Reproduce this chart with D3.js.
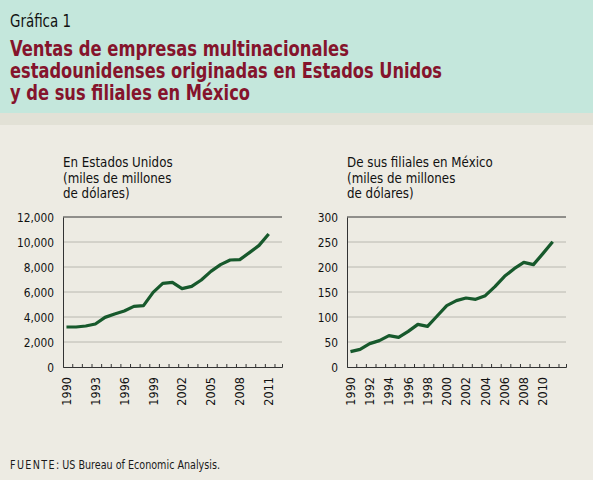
<!DOCTYPE html>
<html>
<head>
<meta charset="utf-8">
<script src="https://cdn.jsdelivr.net/npm/d3@7"></script>
<style>
  body { margin: 0; background: #edebe3; }
  svg { display: block; }
  text { font-family: "DejaVu Sans Condensed", "Open Sans", sans-serif; }
</style>
</head>
<body>
<svg id="chart"></svg>
<script>
const width = 593;
const height = 480;

// years shared by both panels
const years = d3.range(1990, 2012);

// ventas en Estados Unidos (miles de millones de dólares)
const usSales = [3200, 3200, 3280, 3440, 3970, 4240, 4480, 4850, 4910, 5970, 6690,
    6770, 6270, 6450, 6960, 7650, 8190, 8560, 8590, 9150, 9730, 10640];

// ventas de filiales en México (miles de millones de dólares)
const mxSales = [30.7, 35.3, 46.7, 52.7, 62.7, 59.3, 71.3, 85.3, 81.3, 102, 122.7,
    132.7, 138, 135.3, 142.7, 160.7, 181.3, 196.7, 209.3, 204.7, 227.3, 250.7];

const usTicks = [0, 2000, 4000, 6000, 8000, 10000, 12000];
const mxTicks = [0, 50, 100, 150, 200, 250, 300];
const usYearLabels = [1990, 1993, 1996, 1999, 2002, 2005, 2008, 2011];
const mxYearLabels = [1990, 1992, 1994, 1996, 1998, 2000, 2002, 2004, 2006, 2008, 2010];

const titleLines = [
    "Ventas de empresas multinacionales",
    "estadounidenses originadas en Estados Unidos",
    "y de sus filiales en México"
];

const svg = d3.select("#chart")
    .attr("width", width)
    .attr("height", height);

// background bands
svg.append("rect").attr("width", width).attr("height", height).attr("fill", "#edebe3");
svg.append("rect").attr("width", width).attr("height", 113).attr("fill", "#c4e7dc");
svg.append("rect").attr("y", 113).attr("width", width).attr("height", 12).attr("fill", "#e2e1d6");

svg.append("text")
    .attr("x", 10)
    .attr("y", 27)
    .attr("textLength", 61)
    .attr("lengthAdjust", "spacingAndGlyphs")
    .style("font-size", "18px")
    .style("fill", "#111")
    .text("Gráfica 1");

const titleWidths = [339, 432, 240];

svg.selectAll("text.title")
    .data(titleLines)
    .enter()
    .append("text")
    .attr("class", "title")
    .attr("x", 10)
    .attr("y", (d, i) => 56 + i * 22)
    .attr("textLength", (d, i) => titleWidths[i])
    .attr("lengthAdjust", "spacingAndGlyphs")
    .style("font-size", "21px")
    .style("font-weight", "bold")
    .style("fill", "#85142c")
    .text(d => d);

// footer
const foot = svg.append("text")
    .attr("x", 10)
    .attr("y", 469)
    .attr("textLength", 210)
    .attr("lengthAdjust", "spacingAndGlyphs")
    .style("font-size", "11.5px")
    .style("fill", "#1a1a1a");
foot.append("tspan").style("letter-spacing", "1.5px").text("FUENTE");
foot.append("tspan").text(": US Bureau of Economic Analysis.");

const plotTop = 217;
const plotBottom = 367;
const plotW = 219;

function drawPanel(x0, subtitle, values, yMax, yTicks, yFormat, labelYears) {

    const g = svg.append("g");

    const x = d3.scaleLinear()
        .domain([1989.64, 1989.64 + plotW / 9.63])
        .range([x0, x0 + plotW]);

    const y = d3.scaleLinear()
        .domain([0, yMax])
        .range([plotBottom, plotTop]);

    // subtitle
    g.selectAll("text.sub")
        .data(subtitle)
        .enter()
        .append("text")
        .attr("class", "sub")
        .attr("x", x0)
        .attr("y", (d, i) => 167 + i * 15.5)
        .style("font-size", "13.2px")
        .style("fill", "#111")
        .text(d => d);

    // gridlines
    g.selectAll("line.grid")
        .data(yTicks.filter(t => t > 0 && t < yMax))
        .enter()
        .append("line")
        .attr("x1", x0)
        .attr("x2", x0 + plotW)
        .attr("y1", d => y(d))
        .attr("y2", d => y(d))
        .attr("stroke", "#b9b8b0")
        .attr("stroke-width", 1);

    // top border
    g.append("line")
        .attr("x1", x0).attr("x2", x0 + plotW)
        .attr("y1", y(yMax)).attr("y2", y(yMax))
        .attr("stroke", "#333").attr("stroke-width", 1);

    // y axis
    const yAxis = g.append("g")
        .attr("transform", `translate(${x0},0)`)
        .call(d3.axisLeft(y).tickValues(yTicks).tickSize(0).tickPadding(9).tickFormat(yFormat));
    yAxis.select(".domain").attr("stroke", "#333");
    yAxis.selectAll("text")
        .attr("dy", "0.4em")
        .style("font-size", "11.8px")
        .style("fill", "#111")
        .style("font-family", "\"DejaVu Sans Condensed\", sans-serif");

    // x axis with small inward ticks
    const tickYears = d3.range(1990.6, 2012.6, 1).concat([x.domain()[1]]);
    const xAxis = g.append("g")
        .attr("transform", `translate(0,${plotBottom})`)
        .call(d3.axisTop(x).tickValues(tickYears).tickSize(3).tickFormat(""));
    xAxis.select(".domain").attr("stroke", "#333");
    xAxis.selectAll(".tick line").attr("stroke", "#333");

    g.selectAll("text.year")
        .data(labelYears)
        .enter()
        .append("text")
        .attr("class", "year")
        .attr("transform", d => `translate(${x(d)},${plotBottom + 10}) rotate(-90)`)
        .attr("dy", "0.35em")
        .attr("text-anchor", "end")
        .style("font-size", "12.5px")
        .style("fill", "#111")
        .text(d => d);

    const line = d3.line()
        .x((d, i) => x(years[i]))
        .y(d => y(d));

    g.append("path")
        .datum(values)
        .attr("d", line)
        .attr("fill", "none")
        .attr("stroke", "#17592c")
        .attr("stroke-width", 3.2)
        .attr("stroke-linejoin", "round");
}

drawPanel(63, ["En Estados Unidos", "(miles de millones", "de dólares)"],
    usSales, 12000, usTicks, d3.format(","), usYearLabels);

drawPanel(347, ["De sus filiales en México", "(miles de millones", "de dólares)"],
    mxSales, 300, mxTicks, d3.format("d"), mxYearLabels);
</script>
</body>
</html>
